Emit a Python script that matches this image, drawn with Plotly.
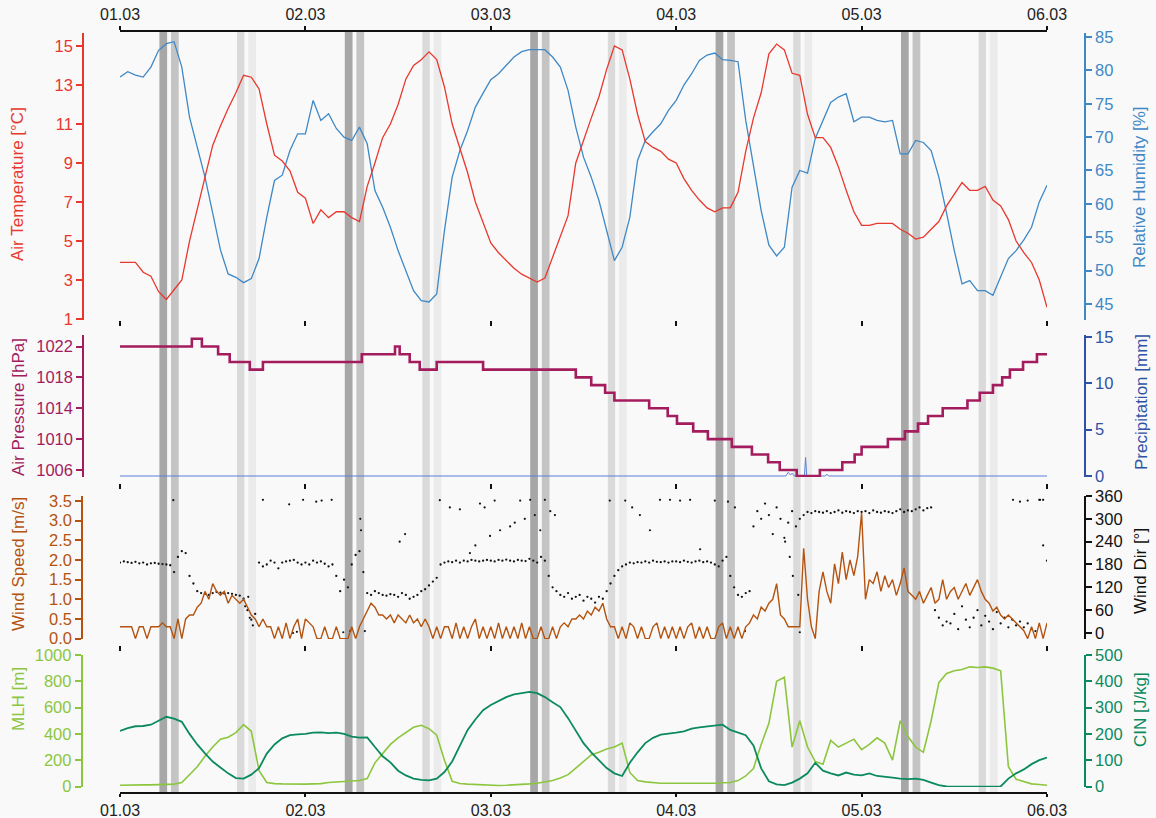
import plotly.graph_objects as go

# ---------------- data ----------------
day_labels = ["01.03", "02.03", "03.03", "04.03", "05.03", "06.03"]
day_hours = [0, 24, 48, 72, 96, 120]

hours = list(range(121))            # hourly samples, 01.03 00:00 .. 06.03 00:00
half_hours = [i * 0.5 for i in range(241)]

temp_c = [3.9, 3.9, 3.9, 3.4, 3.2, 2.4, 2.0, 2.5, 3.0, 5.0,
          6.6, 8.3, 9.9, 10.9, 11.8, 12.6, 13.5, 13.4, 12.8, 11.0,
          9.4, 9.1, 8.6, 7.5, 7.2, 5.9, 6.6, 6.2, 6.5, 6.5,
          6.2, 6.0, 7.8, 9.0, 10.3, 11.0, 12.0, 13.3, 14.0, 14.3,
          14.7, 14.3, 12.9, 11.0, 9.8, 8.5, 7.0, 5.9, 4.9, 4.4,
          4.0, 3.6, 3.3, 3.1, 2.9, 3.1, 4.2, 5.3, 6.3, 9.0,
          10.2, 11.3, 12.4, 13.8, 15.0, 14.8, 13.3, 11.5, 10.1, 9.8,
          9.6, 9.2, 9.0, 8.2, 7.6, 7.1, 6.7, 6.5, 6.7, 6.7,
          7.5, 9.6, 11.3, 12.6, 14.6, 15.1, 14.8, 13.6, 13.5, 11.5,
          10.3, 10.3, 9.8, 8.8, 7.6, 6.5, 5.8, 5.8, 5.9, 5.9,
          5.9, 5.6, 5.4, 5.1, 5.2, 5.6, 6.0, 6.8, 7.4, 8.0,
          7.6, 7.6, 7.8, 7.1, 6.8, 6.1, 5.0, 4.4, 3.9, 3.0,
          1.6]

rel_hum = [79.0, 79.8, 79.3, 79.0, 80.5, 83.0, 84.0, 84.3, 80.5, 73.0,
           68.5, 64.0, 58.6, 53.1, 49.5, 49.0, 48.2, 48.8, 51.8, 58.0,
           63.5, 64.3, 68.0, 70.5, 70.5, 75.5, 72.5, 73.5, 71.3, 70.0,
           69.5, 71.5, 69.0, 62.0, 59.5, 56.5, 53.0, 50.0, 47.0, 45.5,
           45.3, 46.5, 56.0, 64.0, 68.0, 71.0, 74.5, 76.6, 78.6, 79.5,
           80.8, 82.0, 82.8, 83.1, 83.1, 83.1, 82.0, 80.5, 77.0, 71.5,
           67.0, 64.0, 60.5, 56.1, 51.5, 53.5, 58.0, 66.5, 69.5, 70.8,
           72.0, 74.0, 75.5, 77.8, 79.5, 81.5, 82.3, 82.6, 81.6, 81.5,
           81.3, 72.5, 66.0, 59.0, 53.8, 52.2, 53.5, 62.5, 65.0, 64.6,
           69.8, 72.5, 75.2, 76.0, 76.5, 72.3, 73.0, 73.0, 72.5, 72.3,
           72.5, 67.5, 67.5, 69.5, 69.2, 68.0, 64.0, 58.6, 53.0, 48.0,
           48.5, 47.0, 47.0, 46.3, 49.0, 51.8, 53.0, 54.6, 56.5, 60.3,
           62.8]

pressure_step_hours = [0, 9.3, 10.6, 12.7, 14.2, 16.8, 18.5,
                       31.3, 35.6, 36.2, 37.5, 38.8, 41.0, 47.0,
                       59.0, 61.0, 62.8, 64.0, 68.5, 70.9, 72.1,
                       74.2, 76.1, 79.2, 81.8, 83.9, 85.4, 87.6,
                       90.6, 93.5, 95.1, 96.0, 99.4, 101.6, 103.3,
                       104.6, 106.5, 109.7, 111.3, 113.0, 114.2, 115.2,
                       116.9, 118.7, 120]
pressure_hpa = [1022, 1023, 1022, 1021, 1020, 1019, 1020,
                1021, 1022, 1021, 1020, 1019, 1020, 1019,
                1018, 1017, 1016, 1015, 1014, 1013, 1012,
                1011, 1010, 1009, 1008, 1007, 1006, 1005.2,
                1006, 1007, 1008, 1009, 1010, 1011, 1012,
                1013, 1014, 1015, 1016, 1017, 1018, 1019,
                1020, 1021, 1021]

precip_hours = [0, 86.2, 86.5, 86.8, 87.0, 87.3, 88.6, 88.75, 88.9, 91.3, 91.5, 91.7, 120]
precip_mm = [0, 0, 0.4, 0.1, 0.3, 0, 0, 2.0, 0, 0, 0.2, 0, 0]

wind_speed = (
    # 01.03
    [0.3, 0.3, 0.3, 0.3, 0.0, 0.3, 0.3, 0.0, 0.3, 0.3, 0.3, 0.4, 0.3,
     0.3, 0.0, 0.5, 0.0, 0.5, 0.6, 0.6, 0.8, 0.9, 1.2, 1.0, 1.4,
     1.2, 1.1, 1.2, 0.9, 1.1, 1.0, 0.9, 1.0, 0.8, 0.6, 0.5, 0.3, 0.5, 0.3,
     0.3, 0.0, 0.3, 0.0, 0.4, 0.0, 0.3, 0.5, 0.0]
    # 02.03
    + [0.5, 0.4, 0.3, 0.0, 0.0, 0.3, 0.0, 0.0, 0.3, 0.0, 0.0, 0.0, 0.3, 0.0, 0.3, 0.5,
       0.7, 0.9, 0.8, 0.6, 0.6, 0.5, 0.6, 0.4, 0.6, 0.5, 0.4, 0.6, 0.4, 0.5,
       0.3, 0.5, 0.3, 0.0, 0.3,
       0.0, 0.3, 0.3, 0.0, 0.4, 0.0, 0.3, 0.0, 0.3, 0.5, 0.0, 0.3, 0.0]
    # 03.03
    + [0.3, 0.0, 0.4, 0.0, 0.3, 0.0, 0.3, 0.0, 0.4, 0.0, 0.3,
       0.0, 0.0, 0.3, 0.0, 0.0, 0.3, 0.0,
       0.3, 0.4, 0.3, 0.5, 0.5, 0.6, 0.5, 0.7, 0.6, 0.8, 0.7, 0.9,
       0.5, 0.3, 0.3,
       0.0, 0.3, 0.0, 0.4, 0.3, 0.0, 0.3, 0.0, 0.0, 0.3, 0.4, 0.0, 0.3, 0.0, 0.3]
    # 04.03
    + [0.0, 0.3, 0.0, 0.3, 0.4, 0.0, 0.3, 0.0, 0.3, 0.0, 0.0, 0.3, 0.4, 0.0, 0.3, 0.0, 0.3, 0.0, 0.3,
       0.4, 0.6, 0.5, 0.8, 0.7, 0.9, 1.0, 1.4,
       0.6, 0.5, 0.3, 0.3, 0.3, 0.3,
       2.3, 1.0, 0.3, 0.0,
       1.2, 1.7, 1.2, 0.9, 1.9, 1.4, 2.2, 1.5, 2.0, 1.6, 2.1]
    # 05.03 .. 06.03 00:00
    + [3.2,
       1.0, 1.5, 1.4, 1.7, 1.2, 1.6, 1.3, 1.5, 1.1,
       1.4, 1.8, 1.2,
       1.1, 1.0, 1.2, 0.9, 1.1, 1.3, 0.9, 1.0, 1.5,
       1.0, 1.2, 1.3, 1.0, 1.2, 1.4, 1.1, 1.3, 1.5, 1.2, 1.0,
       0.9, 0.7, 0.8, 0.6, 0.5, 0.6, 0.5, 0.4, 0.3, 0.2,
       0.0, 0.3, 0.0, 0.4, 0.0, 0.4]
)

wind_dir = (
    # 01.03
    [185, 188, 186, 184, 187, 183, 185, 180, 183, 184, 182, 181, 180, 178,
     160, 200, 215, 210, 150, 130,
     110, 105, 103, 100, 105, 108, 106, 104, 105, 103, 100, 98,
     90, 60, 35, 50,
     185, 175, 180, 190, 185, 170, 185, 188, 190, 192, 185, 180]
    # 02.03
    + [185, 180, 190, 185, 188, 182,
       175, 180, 150, 110, 140,
       120, 180, 205, 215,
       160, 105, 100, 110,
       105, 100, 98, 102, 100, 95, 105, 100, 90, 95, 100,
       110, 115, 125, 135, 145,
       180, 185, 188, 186, 190, 185, 190, 188, 192, 190, 188, 190, 192]
    # 03.03
    + [190, 188, 192, 190, 193, 190, 188, 192, 190, 189, 195, 190, 185, 200,
       190, 150, 120, 110,
       100, 95, 105, 90, 95, 100, 85, 95, 90, 80, 95, 90,
       110, 130, 150, 165,
       175, 180, 185, 183, 186, 185, 188, 185, 190, 187, 186, 188, 185, 188]
    # 04.03
    + [188, 186, 190, 187, 185, 188, 190, 186, 188, 185, 180, 175,
       190, 200, 150, 120,
       100, 95, 105, 110,
       280, 320, 300, 340, 310, 260,
       330, 300, 250, 290, 320, 280,
       300, 310, 318, 315, 320, 318, 316, 320, 315, 318, 322, 316, 320, 318, 315, 320]
    # 05.03 .. 06.03 00:00
    + [318, 320, 315, 322, 318, 316, 320, 318, 315, 320, 325, 318, 322, 320, 325, 330, 322, 328, 330,
       60, 40, 20, 30,
       25, 50, 10, 70, 35, 15, 40, 60, 20, 45, 30, 10, 55, 25, 40, 15, 35, 20, 30, 15, 25,
       10, 5, 350, 350, 190]
)

wind_dir_extra_hours = [6.9, 16.2, 16.6, 16.8, 17.2, 18.5, 21.9, 22.4, 22.9, 23.7, 25.4, 26.1,
                        27.4, 28.9, 29.8, 31.1, 31.2, 31.7, 36.2, 36.9, 41.4, 42.7, 44.0,
                        45.3, 46.0, 46.6, 47.2, 47.9, 48.5, 49.2, 50.5, 51.1, 51.8, 52.4,
                        53.1, 53.7, 54.4, 55.0, 55.7, 56.3, 63.4, 65.4, 66.3, 67.3, 68.6,
                        69.9, 71.2, 72.5, 73.8, 75.1, 77.0, 78.7, 79.6, 80.9, 86.1, 86.7,
                        87.1, 87.8, 88.0, 115.6, 116.5, 117.5, 119.1, 119.5]
wind_dir_extra_deg = [349, 70, 95, 40, 20, 350, 338, 0, 3, 350, 345, 348,
                      350, 2, 5, 300, 270, 5, 240, 260, 349, 330, 325,
                      210, 230, 340, 330, 255, 348, 270, 280, 290, 348, 300,
                      350, 310, 270, 350, 320, 310, 348, 348, 330, 310, 270,
                      350, 350, 348, 350, 220, 348, 345, 330, 5, 240, 200,
                      150, 100, 2, 350, 345, 348, 350, 230]

mlh_m = [10, 12, 10, 12, 12, 15, 15, 18, 30, 90,
         150, 230, 300, 360, 375, 410, 470, 420, 120, 30,
         22, 20, 18, 20, 18, 20, 22, 30, 35, 40,
         42, 45, 60, 180, 250, 320, 370, 410, 450, 465,
         440, 390, 200, 40, 23, 18, 15, 12, 10, 8,
         10, 12, 15, 20, 25, 35, 46, 65, 90, 140,
         190, 240, 260, 285, 300, 330, 107, 46, 35, 28,
         25, 25, 25, 22, 25, 25, 22, 25, 28, 30,
         45, 80, 137, 320, 480, 800, 830, 300, 500, 300,
         190, 170, 350, 300, 330, 360, 280, 320, 370, 330,
         200, 500, 380, 300, 260, 500, 790, 860, 880, 890,
         910, 905, 910, 900, 880, 150, 55, 40, 20, 15,
         10]

cin_jkg = [211, 222, 229, 230, 235, 250, 265, 258, 246, 200,
           160, 126, 95, 72, 50, 32, 30, 45, 70, 125,
           160, 183, 195, 198, 200, 205, 206, 203, 205, 200,
           190, 186, 187, 150, 115, 92, 60, 42, 30, 25,
           23, 30, 55, 95, 156, 215, 255, 290, 310, 325,
           340, 350, 355, 360, 355, 340, 320, 302, 260, 210,
           165, 130, 100, 70, 50, 40, 90, 130, 165, 185,
           197, 200, 205, 210, 220, 225, 228, 230, 235, 215,
           206, 195, 156, 69, 20, 8, 5, 15, 30, 50,
           90, 60, 50, 42, 53, 45, 42, 50, 40, 38,
           34, 30, 28, 30, 25, 15, 5, 0, -1, -1,
           -1, -1, -1, -1, 0, 30, 50, 65, 85, 100,
           110]

# shaded periods, hours after midnight of each day
band_start_h = [5.1, 6.6, 15.15, 16.6]
band_end_h = [6.1, 7.6, 16.1, 17.6]
band_colors = ["#a7a7a7", "#c4c4c4", "#dadada", "#ebebeb"]

temp_ticks = [1, 3, 5, 7, 9, 11, 13, 15]
rh_ticks = [45, 50, 55, 60, 65, 70, 75, 80, 85]
pres_ticks = [1006, 1010, 1014, 1018, 1022]
prec_ticks = [0, 5, 10, 15]
ws_ticks = [0.0, 0.5, 1.0, 1.5, 2.0, 2.5, 3.0, 3.5]
wd_ticks = [0, 60, 120, 180, 240, 300, 360]
mlh_ticks = [0, 200, 400, 600, 800, 1000]
cin_ticks = [0, 100, 200, 300, 400, 500]

# ---------------- style ----------------
W, H = 1156, 818
MT, MB = 31, 25
PH = H - MT - MB
FONT = "Liberation Sans, Arial, sans-serif"

TEMP_C = "#e8382d"
RH_C = "#3f88c5"
PRES_C = "#a31c5e"
PREC_LINE = "#5b80d8"
PREC_AX = "#3052a6"
WS_C = "#b4530f"
WD_C = "#111111"
MLH_C = "#8cc63f"
CIN_C = "#0b8a5e"
BG = "#f9f9f9"


def py(pix):
    return (H - MB - pix) / PH


def px(pix):
    return pix / W


LEFT_POS = px(83)
RIGHT_POS = px(1085)

fig = go.Figure()

# panel 1: RH (base, right) and temperature (overlay, left)
fig.add_trace(go.Scatter(x=hours, y=rel_hum, mode="lines", line=dict(color=RH_C, width=1.3),
                         xaxis="x", yaxis="y", showlegend=False))
fig.add_trace(go.Scatter(x=hours, y=temp_c, mode="lines", line=dict(color=TEMP_C, width=1.3),
                         xaxis="x", yaxis="y2", showlegend=False))
# panel 2: precipitation (base, right) and pressure (overlay, left)
fig.add_trace(go.Scatter(x=precip_hours, y=precip_mm, mode="lines", line=dict(color=PREC_LINE, width=1),
                         xaxis="x", yaxis="y3", showlegend=False))
fig.add_trace(go.Scatter(x=pressure_step_hours, y=pressure_hpa, mode="lines", line_shape="hv",
                         line=dict(color=PRES_C, width=2.6), xaxis="x", yaxis="y4", showlegend=False))
# panel 3: wind direction dots (base, right) and wind speed (overlay, left)
fig.add_trace(go.Scatter(x=half_hours, y=wind_dir, mode="markers",
                         marker=dict(color=WD_C, size=2.3), xaxis="x", yaxis="y5", showlegend=False))
fig.add_trace(go.Scatter(x=wind_dir_extra_hours, y=wind_dir_extra_deg, mode="markers",
                         marker=dict(color=WD_C, size=2.2), xaxis="x", yaxis="y5", showlegend=False))
fig.add_trace(go.Scatter(x=half_hours, y=wind_speed, mode="lines", line=dict(color=WS_C, width=1.4),
                         xaxis="x", yaxis="y6", showlegend=False))
# panel 4: MLH (base, left) and CIN (overlay, right)
fig.add_trace(go.Scatter(x=hours, y=mlh_m, mode="lines", line=dict(color=MLH_C, width=1.6),
                         xaxis="x", yaxis="y7", showlegend=False))
fig.add_trace(go.Scatter(x=hours, y=cin_jkg, mode="lines", line=dict(color=CIN_C, width=1.8),
                         xaxis="x", yaxis="y8", showlegend=False))
# empty traces so the extra x axes (top labels, panel tick rows) are drawn
for xa in ["x2", "x3", "x4", "x5"]:
    fig.add_trace(go.Scatter(x=[], y=[], xaxis=xa, yaxis="y", showlegend=False, hoverinfo="skip"))


def yax(color, rng, ticks, side, pos, domain=None, overlaying=None, fmt=None):
    d = dict(range=rng, tickvals=ticks, side=side, anchor="free", position=pos,
             showline=True, linecolor=color, linewidth=1.5, ticks="outside", ticklen=6,
             tickwidth=1.5, tickcolor=color, tickfont=dict(color=color, size=16.5, family=FONT),
             showgrid=False, zeroline=False, automargin=False)
    if domain is not None:
        d["domain"] = domain
    if overlaying is not None:
        d["overlaying"] = overlaying
    if fmt is not None:
        d["tickformat"] = fmt
    return d


d1 = [py(320), py(33)]
d2 = [py(477), py(335)]
d3 = [py(639), py(496)]
d4 = [py(787), py(655)]

xcommon = dict(range=[day_hours[0], day_hours[-1]], tickvals=day_hours, showgrid=False,
               zeroline=False, automargin=False)

layout = dict(
    width=W, height=H, autosize=False,
    margin=dict(l=0, r=0, t=MT, b=MB, pad=0, autoexpand=False),
    paper_bgcolor=BG, plot_bgcolor="rgba(0,0,0,0)",
    font=dict(family=FONT, size=16.5, color="#222222"),
    showlegend=False,
    xaxis=dict(**xcommon, domain=[px(120), px(1047)], anchor="free", position=0, side="bottom",
               ticktext=day_labels, showline=True, linecolor="#111111", linewidth=1.8,
               ticks="outside", ticklen=3, tickwidth=1.8, tickcolor="#111111",
               tickfont=dict(size=16, color="#222222", family=FONT)),
    xaxis2=dict(**xcommon, overlaying="x", anchor="free", position=1, side="top",
                ticktext=day_labels, showline=True, linecolor="#111111", linewidth=1.8,
                ticks="outside", ticklen=4, tickwidth=1.8, tickcolor="#111111",
                tickfont=dict(size=16, color="#222222", family=FONT)),
    yaxis=yax(RH_C, [42.6, 85.6], rh_ticks, "right", RIGHT_POS, domain=d1),
    yaxis2=yax(TEMP_C, [0.95, 15.667], temp_ticks, "left", LEFT_POS, overlaying="y"),
    yaxis3=yax(PREC_AX, [-0.108, 15.216], prec_ticks, "right", RIGHT_POS, domain=d2),
    yaxis4=yax(PRES_C, [1005.09, 1023.49], pres_ticks, "left", LEFT_POS, overlaying="y3"),
    yaxis5=yax(WD_C, [-15.8, 360], wd_ticks, "right", RIGHT_POS, domain=d3),
    yaxis6=yax(WS_C, [-0.01, 3.627], ws_ticks, "left", px(82), overlaying="y5", fmt=".1f"),
    yaxis7=yax(MLH_C, [-3.8, 1000], mlh_ticks, "left", px(81.5), domain=d4),
    yaxis8=yax(CIN_C, [-1.9, 500], cin_ticks, "right", RIGHT_POS, overlaying="y7"),
)
for name, pix in [("xaxis3", 320), ("xaxis4", 483), ("xaxis5", 645)]:
    layout[name] = dict(**xcommon, overlaying="x", anchor="free", position=py(pix), side="bottom",
                        showline=False, showticklabels=False, ticks="outside", ticklen=5,
                        tickwidth=2, tickcolor="#111111")
fig.update_layout(**layout)

# shaded periods across all panels
shapes = []
for d0 in day_hours[:-1]:
    for s, e, c in zip(band_start_h, band_end_h, band_colors):
        shapes.append(dict(type="rect", xref="x", yref="paper", x0=d0 + s, x1=d0 + e,
                           y0=0, y1=py(32), fillcolor=c, line=dict(width=0), layer="below"))
fig.update_layout(shapes=shapes)

# axis titles
titles = [
    ("Air Temperature [°C]", 18, 184, TEMP_C),
    ("Relative Humidity [%]", 1140, 187, RH_C),
    ("Air Pressure [hPa]", 18, 407, PRES_C),
    ("Precipitation [mm]", 1141, 402, PREC_AX),
    ("Wind Speed [m/s]", 18, 564, WS_C),
    ("Wind Dir [°]", 1140, 571, WD_C),
    ("MLH [m]", 18, 699, MLH_C),
    ("CIN [J/kg]", 1140, 710, CIN_C),
]
for text, xp, yp, col in titles:
    fig.add_annotation(text=text, x=px(xp), y=py(yp), xref="paper", yref="paper",
                       showarrow=False, textangle=-90, xanchor="center", yanchor="middle",
                       font=dict(size=17, color=col, family=FONT))

# the page's default 8px body margin would shift the fixed-size figure
page_fix = ("document.documentElement.style.margin='0';document.body.style.margin='0';"
            "document.body.style.padding='0';document.body.style.overflow='hidden';"
            "document.body.style.background='" + BG + "';")
fig.write_html("out.html", post_script=page_fix, config={"displayModeBar": False})
